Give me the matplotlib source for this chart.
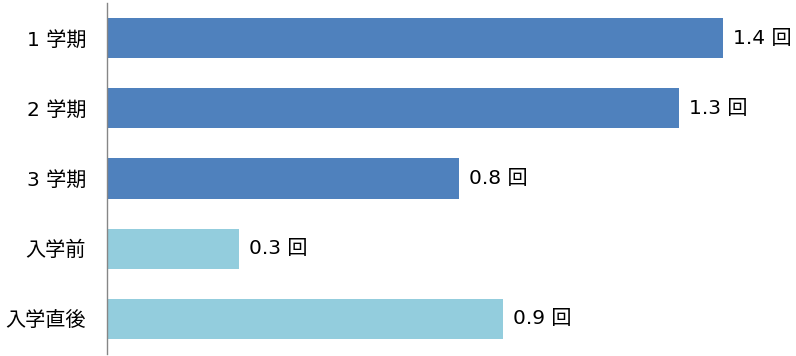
import matplotlib
matplotlib.use("Agg")
import matplotlib.pyplot as plt

plt.rcParams['font.family'] = ['DejaVu Sans', 'Noto Sans CJK JP']

categories = ["1 学期", "2 学期", "3 学期", "入学前", "入学直後"]
values = [1.4, 1.3, 0.8, 0.3, 0.9]
value_labels = ["1.4 回", "1.3 回", "0.8 回", "0.3 回", "0.9 回"]
colors = ["#4F81BD", "#4F81BD", "#4F81BD", "#93CDDD", "#93CDDD"]

fig = plt.figure(figsize=(7.96, 3.56), dpi=100)
ax = fig.add_axes([107 / 796, 2 / 356, 660 / 796, 351 / 356])

pos = list(range(len(categories)))
ax.barh(pos, values, height=0.57, color=colors)
for p, v, lab in zip(pos, values, value_labels):
	ax.text(v + 0.022, p, lab, va="center", ha="left", fontsize=14.5, color="black")

ax.set_xlim(0, 1.5)
ax.set_ylim(4.5, -0.5)
ax.set_yticks(pos)
ax.set_yticklabels(categories, fontsize=14.5, color="black")
ax.tick_params(axis="y", length=0, pad=15)
ax.set_xticks([])
for s in ["top", "right", "bottom"]:
	ax.spines[s].set_visible(False)
ax.spines["left"].set_color("#868686")
ax.spines["left"].set_linewidth(1)

fig.savefig("out.png", dpi=100)
